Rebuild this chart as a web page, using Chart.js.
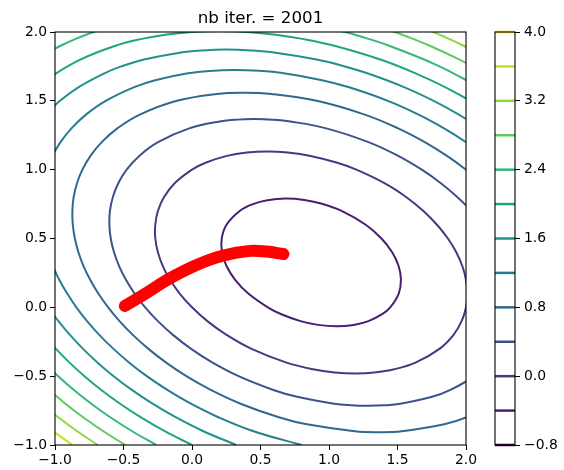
<!DOCTYPE html>
<html>
<head>
<meta charset="utf-8">
<script src="https://cdn.jsdelivr.net/npm/chart.js@4/dist/chart.umd.min.js"></script>
<style>
  body { margin: 0; background: #fff; }
  #wrap { position: relative; width: 564px; height: 470px; }
  #wrap canvas { position: absolute; top: 0; }
</style>
</head>
<body>
<div id="wrap">
  <canvas id="plot" width="564" height="470" style="left:0"></canvas>
  <canvas id="cbar" width="84" height="470" style="left:480px"></canvas>
</div>
<script>
// contour levels and their viridis colours
var levels = [-0.8, -0.4, 0.0, 0.4, 0.8, 1.2, 1.6, 2.0, 2.4, 2.8, 3.2, 3.6, 4.0];
var levelColors = ['#440154', '#481f70', '#443983', '#3b528b', '#31688e', '#287c8e', '#21918c',
                   '#20a486', '#35b779', '#5ec962', '#90d743', '#c8e020', '#fde725'];

var xTicks = [-1.0, -0.5, 0.0, 0.5, 1.0, 1.5, 2.0];
var yTicks = [-1.0, -0.5, 0.0, 0.5, 1.0, 1.5, 2.0];
var cbTicks = [-0.8, 0.0, 0.8, 1.6, 2.4, 3.2, 4.0];

// gradient descent path
var pathX = [-0.49, -0.355, -0.161, 0.034, 0.229, 0.423, 0.545, 0.667];
var pathY = [0.01, 0.09, 0.211, 0.308, 0.376, 0.41, 0.405, 0.387];

// contour lines, [x, y] points, one list per piece of line
var lvlM04 = [
  [[0.684,0.790],[0.82,0.7795],[0.955,0.75],[1.092,0.7],[1.268,0.6],[1.383,0.5],[1.461,0.4],[1.508,0.3],[1.525,0.2],
   [1.509,0.1],[1.447,0.0],[1.388,-0.05],[1.288,-0.1],[1.18,-0.1278],[1.055,-0.138],[0.92,-0.1274],[0.792,-0.1],
   [0.652,-0.05],[0.553,0.0],[0.411,0.1],[0.315,0.2],[0.252,0.3],[0.219,0.4],[0.217,0.5],[0.252,0.6],[0.348,0.7],
   [0.445,0.75],[0.55,0.778],[0.684,0.790]]
];
var lvl00 = [
  [[0.547,1.132],[0.7,1.1246],[0.866,1.1],[1.061,1.05],[1.2,1.0],[1.408,0.9],[1.565,0.8],[1.689,0.7],[1.788,0.6],
   [1.868,0.5],[1.929,0.4],[1.973,0.3],[2.0,0.2],[2.01,0.1],[2.0,0.0],[1.968,-0.1],[1.909,-0.2],
   [1.809,-0.3],[1.635,-0.4],[1.476,-0.45],[1.33,-0.4733],[1.192,-0.48],[1.04,-0.4725],[0.884,-0.45],[0.685,-0.4],
   [0.431,-0.3],[0.252,-0.2],[0.112,-0.1],[0.0,0.0],[-0.09,0.1],[-0.16,0.2],[-0.213,0.3],[-0.249,0.4],[-0.268,0.5],
   [-0.268,0.6],[-0.249,0.7],[-0.205,0.8],[-0.128,0.9],[0.0,1.0],[0.099,1.05],[0.254,1.1],[0.4,1.1246],[0.547,1.132]]
];
var lvl04 = [
  [[0.453,1.3675],[0.59,1.3628],[0.718,1.35],[0.98,1.3],[1.288,1.2],[1.505,1.1],[1.677,1.0],[1.819,0.9],[1.938,0.8],
   [2.039,0.7],[2.123,0.6],[2.193,0.5],[2.249,0.4],[2.292,0.3],[2.322,0.2],[2.339,0.1],[2.342,0.0],
   [2.329,-0.1],[2.299,-0.2],[2.249,-0.3],[2.173,-0.4],[2.06,-0.5],[1.886,-0.6],[1.753,-0.65],[1.522,-0.7],
   [1.4,-0.7119],[1.286,-0.7154],[1.16,-0.7113],[1.038,-0.7],[0.768,-0.65],[0.594,-0.6],[0.34,-0.5],[0.147,-0.4],
   [-0.009,-0.3],[-0.139,-0.2],[-0.249,-0.1],[-0.342,0.0],[-0.419,0.1],[-0.482,0.2],[-0.532,0.3],[-0.569,0.4],
   [-0.593,0.5],[-0.603,0.6],[-0.599,0.7],[-0.578,0.8],[-0.539,0.9],[-0.477,1.0],[-0.385,1.1],
   [-0.248,1.2],[-0.02,1.3],[0.202,1.35],[0.33,1.3635],[0.453,1.3675]]
];
var lvl08 = [
  [[2.224,0.8],[2.12,0.9],[2.0,1.0],[1.861,1.1],[1.699,1.2],[1.505,1.3],[1.261,1.4],[0.91,1.5],
   [0.5785,1.55],[0.3765,1.5587],[0.1815,1.55],[-0.11,1.5],[-0.381,1.4],[-0.545,1.3],[-0.659,1.2],
   [-0.741,1.1],[-0.8,1.0],[-0.84,0.9],[-0.864,0.8],[-0.873,0.7],[-0.87,0.6],[-0.855,0.5],[-0.829,0.4],
   [-0.792,0.3],[-0.743,0.2],[-0.684,0.1],[-0.612,0.0],[-0.529,-0.1],[-0.432,-0.2],[-0.32,-0.3],
   [-0.191,-0.4],[-0.041,-0.5],[0.137,-0.6],[0.354,-0.7],[0.64,-0.8],[0.839,-0.85],[1.188,-0.9],
   [1.363,-0.9066],[1.532,-0.9],[1.841,-0.85],[2.0,-0.8],[2.207,-0.7]]
];
var lvl12 = [
  [[0.8,-1.0],[0.449,-0.9],[0.196,-0.8],[-0.008,-0.7],[-0.18,-0.6],[-0.33,-0.5],[-0.46,-0.4],
   [-0.575,-0.3],[-0.677,-0.2],[-0.766,-0.1],[-0.844,0.0],[-0.911,0.1],[-0.969,0.2],[-1.016,0.3]],
  [[-1.019,1.1],[-0.96,1.2],[-0.88,1.3],[-0.774,1.4],[-0.63,1.5],[-0.421,1.6],[-0.269,1.65],[-0.03,1.7],
   [0.13,1.7175],[0.31,1.724],[0.49,1.7179],[0.67,1.7],[0.949,1.65],[1.141,1.6],[1.43,1.5],[1.654,1.4],
   [1.84,1.3],[2.0,1.2],[2.139,1.1]]
];
var lvl16 = [
  [[0.323,-1.0],[0.083,-0.9],[-0.116,-0.8],[-0.288,-0.7],[-0.439,-0.6],[-0.572,-0.5],[-0.691,-0.4],
   [-0.797,-0.3],[-0.891,-0.2],[-0.975,-0.1],[-1.049,0.0]],
  [[-1.068,1.4],[-0.964,1.5],[-0.827,1.6],[-0.64,1.7],[-0.516,1.75],[-0.351,1.8],[-0.09,1.85],[0.08,1.8664],
   [0.251,1.872],[0.43,1.8662],[0.61,1.85],[0.911,1.8],[1.116,1.75],[1.28,1.7],[1.547,1.6],[1.764,1.5],
   [1.948,1.4],[2.108,1.3]]
];
var lvl20 = [
  [[0.0,-1.0],[-0.199,-0.9],[-0.372,-0.8],[-0.525,-0.7],[-0.662,-0.6],[-0.785,-0.5],[-0.896,-0.4],
   [-0.995,-0.3],[-1.085,-0.2]],
  [[-1.127,1.6],[-0.992,1.7],[-0.815,1.8],[-0.559,1.9],[-0.366,1.95],[-0.195,1.98],[0.0,2.0],[0.197,2.0065],
   [0.4,2.0],[0.611,1.98],[0.806,1.95],[1.039,1.9],[1.375,1.8],[1.632,1.7],[1.847,1.6],[2.031,1.5]]
];
var lvl24 = [
  [[-0.261,-1.0],[-0.437,-0.9],[-0.594,-0.8],[-0.735,-0.7],[-0.862,-0.6],[-0.977,-0.5],[-1.082,-0.4]],
  [[-1.134,1.8],[-1.053,1.85],[-0.959,1.9],[-0.849,1.95],[-0.717,2.0],[-0.546,2.05]],
  [[0.906,2.05],[1.117,2.0],[1.289,1.95],[1.439,1.9],[1.694,1.8],[1.805,1.75],[1.908,1.7],[2.095,1.6]]
];
var lvl28 = [
  [[-0.487,-1.0],[-0.647,-0.9],[-0.792,-0.8],[-0.924,-0.7],[-1.044,-0.6]],
  [[1.332,2.05],[1.481,2.0],[1.614,1.95],[1.736,1.9],[1.953,1.8],[2.051,1.75]]
];
var lvl32 = [
  [[-0.688,-1.0],[-0.838,-0.9],[-0.974,-0.8],[-1.099,-0.7]],
  [[1.639,2.05],[1.762,2.0],[1.876,1.95],[1.983,1.9],[2.083,1.85]]
];
var lvl36 = [
  [[-0.872,-1.0],[-0.944,-0.95],[-1.013,-0.9]]
];

var contourSets = [
  [-0.4, lvlM04], [0.0, lvl00], [0.4, lvl04], [0.8, lvl08], [1.2, lvl12], [1.6, lvl16],
  [2.0, lvl20], [2.4, lvl24], [2.8, lvl28], [3.2, lvl32], [3.6, lvl36]
];

function colorOf(level) {
  var i = levels.findIndex(function (l) { return Math.abs(l - level) < 1e-9; });
  return levelColors[i];
}

function fmt(v) {
  var s = Math.abs(v).toFixed(1);
  return (v < -1e-9 ? '\u2212' : '') + s;
}

var datasets = [];

datasets.push({
  data: pathX.map(function (x, i) { return { x: x, y: pathY[i] }; }),
  showLine: true,
  borderColor: '#ff0000',
  borderWidth: 12,
  borderCapStyle: 'round',
  borderJoinStyle: 'round',
  pointRadius: 0,
  tension: 0.4,
  order: 0
});

contourSets.forEach(function (set) {
  var color = colorOf(set[0]);
  set[1].forEach(function (arc) {
    var pts = arc.slice();
    var closed = pts[0][0] === pts[pts.length - 1][0] && pts[0][1] === pts[pts.length - 1][1];
    if (closed) {
      // wrap one point each side so the spline closes smoothly, hide the extra bits
      pts = [pts[pts.length - 2]].concat(pts, [pts[1]]);
    }
    var n = pts.length;
    datasets.push({
      data: pts.map(function (p) { return { x: p[0], y: p[1] }; }),
      showLine: true,
      borderColor: color,
      borderWidth: 2,
      pointRadius: 0,
      tension: 0.4,
      capBezierPoints: false,
      clip: 0,
      order: 1,
      segment: closed ? {
        borderColor: function (ctx) {
          if (ctx.p0DataIndex === 0 || ctx.p1DataIndex === n - 1) return 'rgba(0,0,0,0)';
          return undefined;
        }
      } : undefined
    });
  });
});

var frame = {
  id: 'frame',
  afterDraw: function (chart) {
    var a = chart.chartArea, c = chart.ctx;
    c.save();
    c.strokeStyle = '#000';
    c.lineWidth = 1.1;
    c.strokeRect(a.left, a.top, a.right - a.left, a.bottom - a.top);
    c.restore();
  }
};

var titleText = {
  id: 'titleText',
  afterDraw: function (chart) {
    var a = chart.chartArea, c = chart.ctx;
    c.save();
    c.fillStyle = '#000';
    c.font = '16.7px "DejaVu Sans"';
    c.textAlign = 'center';
    c.textBaseline = 'alphabetic';
    c.fillText('nb iter. = 2001', (a.left + a.right) / 2, 22.5);
    c.restore();
  }
};

var tickFont = { family: 'DejaVu Sans', size: 13.9 };

new Chart(document.getElementById('plot').getContext('2d'), {
  type: 'scatter',
  data: { datasets: datasets },
  options: {
    responsive: false,
    animation: false,
    events: [],
    layout: { padding: { top: 32, right: 98, left: 0, bottom: 0 } },
    plugins: { legend: { display: false }, tooltip: { enabled: false }, title: { display: false } },
    scales: {
      x: {
        type: 'linear', min: -1.0, max: 2.0,
        afterBuildTicks: function (s) { s.ticks = xTicks.map(function (v) { return { value: v }; }); },
        afterFit: function (s) { s.height = 25; },
        ticks: { callback: fmt, color: '#000', font: tickFont, padding: 2, maxRotation: 0 },
        grid: { drawOnChartArea: false, drawTicks: true, tickLength: 5, tickColor: '#000', tickWidth: 1 },
        border: { display: false }
      },
      y: {
        type: 'linear', min: -1.0, max: 2.0,
        afterBuildTicks: function (s) { s.ticks = yTicks.map(function (v) { return { value: v }; }); },
        afterFit: function (s) { s.width = 55; },
        ticks: { callback: fmt, color: '#000', font: tickFont, padding: 3 },
        grid: { drawOnChartArea: false, drawTicks: true, tickLength: 5, tickColor: '#000', tickWidth: 1 },
        border: { display: false }
      }
    }
  },
  plugins: [frame, titleText]
});

// colour bar: one short line per contour level
var cbDatasets = levels.map(function (l, i) {
  return {
    data: [{ x: 0, y: l }, { x: 1, y: l }],
    showLine: true,
    borderColor: levelColors[i],
    borderWidth: 2.5,
    pointRadius: 0,
    clip: 3
  };
});

new Chart(document.getElementById('cbar').getContext('2d'), {
  type: 'scatter',
  data: { datasets: cbDatasets },
  options: {
    responsive: false,
    animation: false,
    events: [],
    layout: { padding: { top: 32, right: 0, left: 15, bottom: 25 } },
    plugins: { legend: { display: false }, tooltip: { enabled: false } },
    scales: {
      x: { type: 'linear', min: 0, max: 1, display: false },
      y: {
        type: 'linear', position: 'right', min: -0.8, max: 4.0,
        afterBuildTicks: function (s) { s.ticks = cbTicks.map(function (v) { return { value: v }; }); },
        afterFit: function (s) { s.width = 49; },
        ticks: { callback: fmt, color: '#000', font: tickFont, padding: 4 },
        grid: { drawOnChartArea: false, drawTicks: true, tickLength: 5, tickColor: '#000', tickWidth: 1 },
        border: { display: false }
      }
    }
  },
  plugins: [frame]
});
</script>
</body>
</html>
